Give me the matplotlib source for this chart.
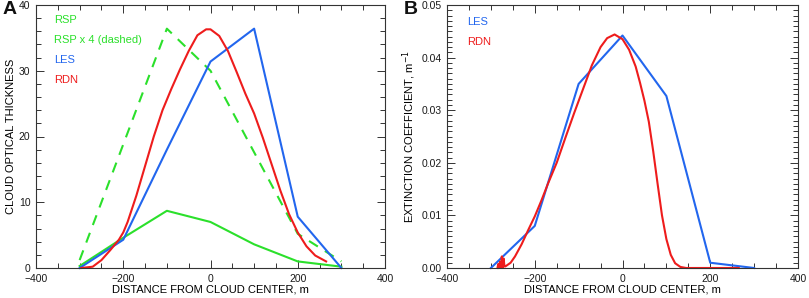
import matplotlib
matplotlib.use("Agg")
import matplotlib.pyplot as plt
from matplotlib.ticker import MultipleLocator

# ---------------- data ----------------
# Panel A: cloud optical thickness vs distance from cloud center (m)
rsp_x = [-300, -200, -100, 0, 100, 200, 300]
rsp_y = [0.3, 4.6, 8.7, 7.0, 3.6, 1.0, 0.2]

rsp4_x = [-300, -100, 0, 200, 300]
rsp4_y = [1.2, 36.4, 30.0, 5.2, 1.0]

les_a_x = [-300, -200, -100, 0, 100, 200, 300]
les_a_y = [0.0, 4.3, 18.0, 31.4, 36.4, 7.8, 0.0]

rdn_a_x = [-296, -270, -250, -230, -210, -200, -190, -170, -150, -130,
           -110, -90, -70, -50, -30, -10, 0, 20, 40, 60, 80, 100, 120,
           140, 160, 180, 200, 220, 240, 265]
rdn_a_y = [0.0, 0.2, 1.2, 2.7, 4.3, 5.4, 7.0, 11.0, 15.5, 20.0,
           24.0, 27.2, 30.2, 33.0, 35.4, 36.3, 36.3, 35.3, 33.0, 29.8, 26.5,
           23.5, 19.8, 15.8, 11.8, 8.2, 5.4, 3.3, 1.9, 1.0]

# Panel B: extinction coefficient (1/m)
les_b_x = [-300, -200, -100, 0, 100, 200, 300]
les_b_y = [0.0, 0.008, 0.035, 0.0442, 0.0327, 0.001, 0.0]

rdn_b_x = [-285, -283, -281, -279, -277, -275, -273, -271, -269, -267,
           -255, -245, -230, -215, -200, -185, -170, -150, -130, -110, -90,
           -70, -50, -35, -18, 0, 15, 30, 40, 50, 60, 70, 80, 90, 100, 110,
           120, 132, 145, 265]
rdn_b_y = [0.0, 0.0008, 0.0, 0.0012, 0.0, 0.0022, 0.0, 0.0018, 0.0003, 0.0003,
           0.0010, 0.0022, 0.0045, 0.0072, 0.0098, 0.0128, 0.0160, 0.0200,
           0.0248, 0.0295, 0.0340, 0.0385, 0.0420, 0.0437, 0.0444, 0.0435,
           0.0415, 0.0383, 0.0352, 0.0318, 0.0278, 0.0222, 0.0160, 0.0100,
           0.0055, 0.0025, 0.0009, 0.0002, 0.0, 0.0]

x_ticks = [-400, -200, 0, 200, 400]
a_yticks = [0, 10, 20, 30, 40]
b_yticks = [0.00, 0.01, 0.02, 0.03, 0.04, 0.05]

# ---------------- style ----------------
GREEN = "#2be02b"
BLUE = "#2266ee"
RED = "#ee1c1c"
TXT = "#1a1a1a"

plt.rcParams["font.family"] = ["Liberation Sans", "DejaVu Sans"]
plt.rcParams["font.size"] = 7.5
plt.rcParams["axes.linewidth"] = 0.8
plt.rcParams["text.color"] = TXT

fig = plt.figure(figsize=(8.09, 2.98), dpi=100)
axA = fig.add_axes([36 / 809, 30 / 298, 349 / 809, 263 / 298])
axB = fig.add_axes([447 / 809, 30 / 298, 351 / 809, 263 / 298])


def style(ax, ymajor, yminor):
    ax.set_xlim(-400, 400)
    ax.xaxis.set_major_locator(MultipleLocator(200))
    ax.xaxis.set_minor_locator(MultipleLocator(50))
    ax.yaxis.set_major_locator(MultipleLocator(ymajor))
    ax.yaxis.set_minor_locator(MultipleLocator(yminor))
    ax.tick_params(which="both", direction="in", top=True, right=True,
                   colors="#333333", labelcolor=TXT, labelsize=7.5, width=0.7)
    ax.tick_params(which="major", length=6, pad=4)
    ax.tick_params(which="minor", length=3.5)
    for s in ax.spines.values():
        s.set_color("#333333")
    ax.set_xlabel("DISTANCE FROM CLOUD CENTER, m", fontsize=8, labelpad=1)


lw = 1.5
# Panel A
axA.plot(rsp_x, rsp_y, color=GREEN, lw=lw, clip_on=False)
axA.plot(rsp4_x, rsp4_y, color=GREEN, lw=lw, ls=(0, (5, 4)), clip_on=False)
axA.plot(les_a_x, les_a_y, color=BLUE, lw=lw, clip_on=False)
axA.plot(rdn_a_x, rdn_a_y, color=RED, lw=lw, clip_on=False)
style(axA, 10, 2)
axA.set_ylim(0, 40)
axA.set_yticks(a_yticks)
axA.set_xticks(x_ticks)
axA.set_ylabel("CLOUD OPTICAL THICKNESS", fontsize=8, labelpad=2)

for i, (t, c) in enumerate([("RSP", GREEN), ("RSP x 4 (dashed)", GREEN),
                            ("LES", BLUE), ("RDN", RED)]):
    axA.text(18 / 349, 1 - (15 + 20 * i) / 263, t, color=c, fontsize=8,
             transform=axA.transAxes, va="center", ha="left")

# Panel B
axB.plot(les_b_x, les_b_y, color=BLUE, lw=lw, clip_on=False)
axB.plot(rdn_b_x, rdn_b_y, color=RED, lw=lw, clip_on=False)
style(axB, 0.01, 0.001)
axB.set_ylim(0, 0.05)
axB.set_yticks(b_yticks)
axB.set_yticklabels([f"{v:.2f}" for v in b_yticks])
axB.set_xticks(x_ticks)
axB.set_ylabel("EXTINCTION COEFFICIENT, m$^{-1}$", fontsize=8, labelpad=2)

for i, (t, c) in enumerate([("LES", BLUE), ("RDN", RED)]):
    axB.text(20 / 351, 1 - (17 + 20 * i) / 263, t, color=c, fontsize=8,
             transform=axB.transAxes, va="center", ha="left")

fig.text(3 / 809, 1 - 10 / 298, "A", fontsize=14, fontweight="bold",
         va="center", ha="left", color="#111111")
fig.text(404 / 809, 1 - 10 / 298, "B", fontsize=14, fontweight="bold",
         va="center", ha="left", color="#111111")

fig.savefig("out.png", dpi=100)
